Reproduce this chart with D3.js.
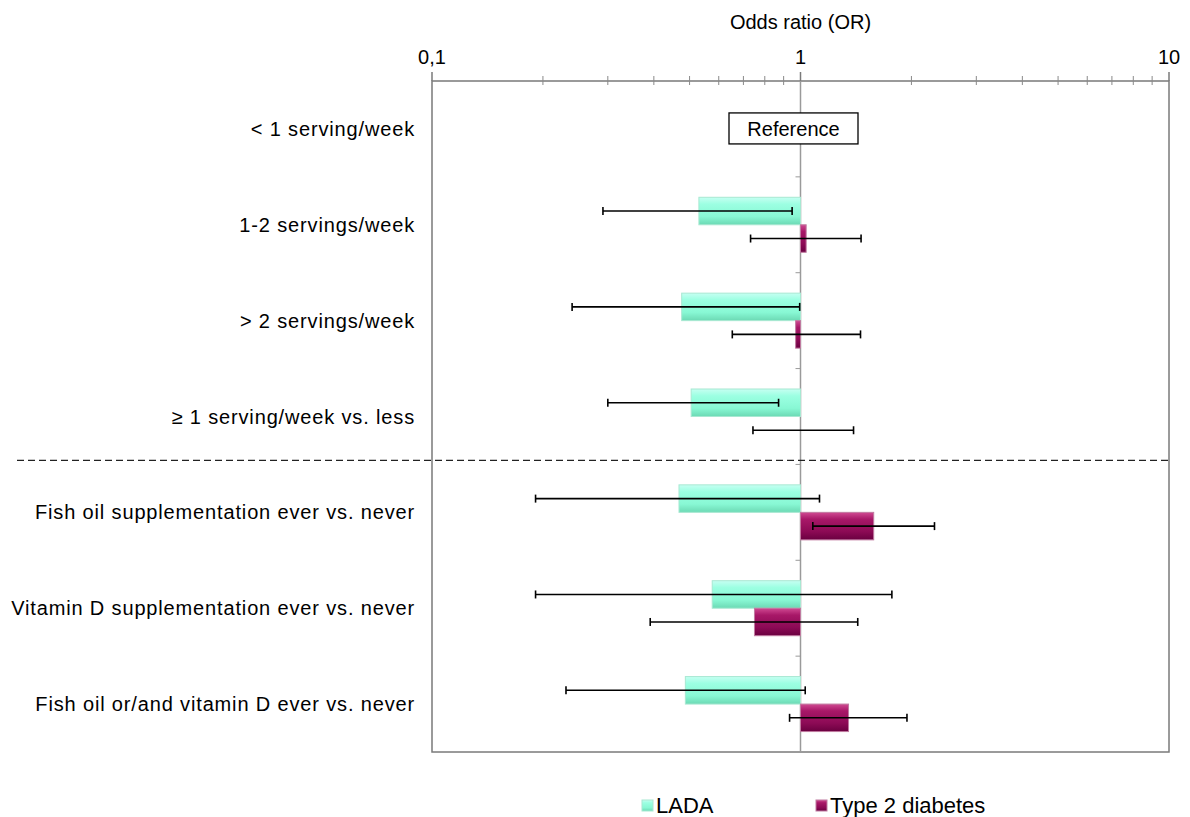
<!DOCTYPE html>
<html>
<head>
<meta charset="utf-8">
<script src="https://cdn.jsdelivr.net/npm/d3@7"></script>
<style>
  body { margin: 0; background: #fff; }
  text { font-family: "Liberation Sans", Arial, sans-serif; fill: #000; }
</style>
</head>
<body>
<div id="chart"></div>
<script>
// rows, top to bottom
const categories = [
    "< 1 serving/week",
    "1-2 servings/week",
    "> 2 servings/week",
    "\u2265 1 serving/week vs. less",
    "Fish oil supplementation ever vs. never",
    "Vitamin D supplementation ever vs. never",
    "Fish oil or/and vitamin D ever vs. never"
];
const series = ["LADA", "Type 2 diabetes"];

// odds ratios and 95% CI (null = reference row)
const ladaOR   = [null, 0.53, 0.476, 0.505, 0.468, 0.576, 0.487];
const ladaLow  = [null, 0.291, 0.240, 0.300, 0.191, 0.191, 0.231];
const ladaHigh = [null, 0.949, 0.995, 0.872, 1.126, 1.77, 1.03];
const t2dOR    = [null, 1.036, 0.97, 1.0, 1.58, 0.75, 1.35];
const t2dLow   = [null, 0.732, 0.653, 0.743, 1.08, 0.391, 0.934];
const t2dHigh  = [null, 1.46, 1.455, 1.393, 2.31, 1.43, 1.945];

const majorTicks = [0.1, 1, 10];
const majorLabels = ["0,1", "1", "10"];

const W = 1190, H = 817;
const plot = { left: 432, right: 1169, top: 81, bottom: 752 };

const svg = d3.select("#chart").append("svg")
    .attr("width", W).attr("height", H);

const defs = svg.append("defs");
function grad(id, stops) {
    const g = defs.append("linearGradient").attr("id", id)
        .attr("x1", 0).attr("y1", 0).attr("x2", 0).attr("y2", 1);
    stops.forEach(s => g.append("stop").attr("offset", s[0]).attr("stop-color", s[1]));
}
grad("gLada", [[0, "#c6fff2"], [0.25, "#9cffe2"], [0.7, "#88f8d4"], [1, "#6cd9b4"]]);
grad("gT2d", [[0, "#d04a92"], [0.25, "#a81868"], [0.7, "#8c0a55"], [1, "#6a0040"]]);

const x = d3.scaleLog().domain([0.1, 10]).range([plot.left, plot.right]);
const y = d3.scaleBand().domain(categories).range([plot.top, plot.bottom]);
const barH = 27.5;

// frame
svg.append("rect")
    .attr("x", plot.left).attr("y", plot.top)
    .attr("width", plot.right - plot.left).attr("height", plot.bottom - plot.top)
    .attr("fill", "none").attr("stroke", "#7a7a7a").attr("stroke-width", 1.5);

// top axis with minor ticks
const minor = [];
[0.1, 1].forEach(d => { for (let k = 2; k <= 9; k++) minor.push(d * k); });
svg.append("g").selectAll("line").data(minor).join("line")
    .attr("x1", d => x(d)).attr("x2", d => x(d))
    .attr("y1", plot.top - 5).attr("y2", plot.top + 4)
    .attr("stroke", "#8a8a8a").attr("stroke-width", 1);
svg.append("g").selectAll("line").data(majorTicks).join("line")
    .attr("x1", d => x(d)).attr("x2", d => x(d))
    .attr("y1", plot.top - 9).attr("y2", plot.top)
    .attr("stroke", "#7a7a7a").attr("stroke-width", 1.5);
svg.append("g").selectAll("text").data(majorTicks).join("text")
    .attr("x", d => x(d)).attr("y", 64)
    .attr("text-anchor", "middle").style("font-size", "20px")
    .text((d, i) => majorLabels[i]);

svg.append("text")
    .attr("x", x(1)).attr("y", 29)
    .attr("text-anchor", "middle").style("font-size", "20px")
    .text("Odds ratio (OR)");

// vertical line at OR = 1 with category ticks
svg.append("line")
    .attr("x1", x(1)).attr("x2", x(1))
    .attr("y1", plot.top).attr("y2", plot.bottom)
    .attr("stroke", "#9a9a9a").attr("stroke-width", 1.5);
svg.append("g").selectAll("line").data(categories.slice(1)).join("line")
    .attr("x1", x(1) - 5).attr("x2", x(1))
    .attr("y1", d => y(d)).attr("y2", d => y(d))
    .attr("stroke", "#9a9a9a").attr("stroke-width", 1);

// category labels
svg.append("g").selectAll("text").data(categories).join("text")
    .attr("x", 415)
    .attr("y", d => y(d) + y.bandwidth() / 2 + 7)
    .attr("text-anchor", "end").style("font-size", "20px")
    .style("letter-spacing", "0.85px")
    .text(d => d);

// dashed separator between diet rows and supplement rows
svg.append("line")
    .attr("x1", 17).attr("x2", plot.right)
    .attr("y1", y(categories[4]) - 4).attr("y2", y(categories[4]) - 4)
    .attr("stroke", "#222").attr("stroke-width", 1.3)
    .attr("stroke-dasharray", "7,4");

// bars
function drawSeries(or, lo, hi, fill, edge, offset) {
    const rows = categories.map((c, i) => ({ c, or: or[i], lo: lo[i], hi: hi[i] }))
        .filter(d => d.or !== null);
    const g = svg.append("g");
    g.selectAll("rect").data(rows.filter(d => d.or !== 1)).join("rect")
        .attr("x", d => Math.min(x(d.or), x(1)))
        .attr("width", d => Math.abs(x(d.or) - x(1)))
        .attr("y", d => y(d.c) + y.bandwidth() / 2 + offset)
        .attr("height", barH)
        .attr("fill", fill).attr("stroke", edge).attr("stroke-width", 1);
    // error bars
    const e = svg.append("g").attr("stroke", "#000").attr("stroke-width", 1.6);
    rows.forEach(d => {
        const cy = y(d.c) + y.bandwidth() / 2 + offset + barH / 2;
        e.append("line").attr("x1", x(d.lo)).attr("x2", x(d.hi)).attr("y1", cy).attr("y2", cy);
        [d.lo, d.hi].forEach(v => e.append("line")
            .attr("x1", x(v)).attr("x2", x(v)).attr("y1", cy - 4).attr("y2", cy + 4));
    });
}
drawSeries(ladaOR, ladaLow, ladaHigh, "url(#gLada)", "#a8e8d2", -barH);
drawSeries(t2dOR, t2dLow, t2dHigh, "url(#gT2d)", "#c07aa0", 0);

// reference box
const refG = svg.append("g");
const refY = y(categories[0]) + y.bandwidth() / 2;
refG.append("rect")
    .attr("x", 729).attr("y", refY - 16).attr("width", 129).attr("height", 31)
    .attr("fill", "#fff").attr("stroke", "#000").attr("stroke-width", 1.3);
refG.append("text")
    .attr("x", 793.5).attr("y", refY + 7)
    .attr("text-anchor", "middle").style("font-size", "20px")
    .text("Reference");

// legend
const legendX = [642, 816];
const legendFill = ["url(#gLada)", "url(#gT2d)"];
const lg = svg.append("g").selectAll("g").data(series).join("g")
    .attr("transform", (d, i) => `translate(${legendX[i]},800)`);
lg.append("rect").attr("width", 11).attr("height", 11)
    .attr("fill", (d, i) => legendFill[i])
    .attr("stroke", (d, i) => i ? "#c07aa0" : "#a8e8d2");
lg.append("text").attr("x", 14).attr("y", 13)
    .style("font-size", "22px").text(d => d);
</script>
</body>
</html>
